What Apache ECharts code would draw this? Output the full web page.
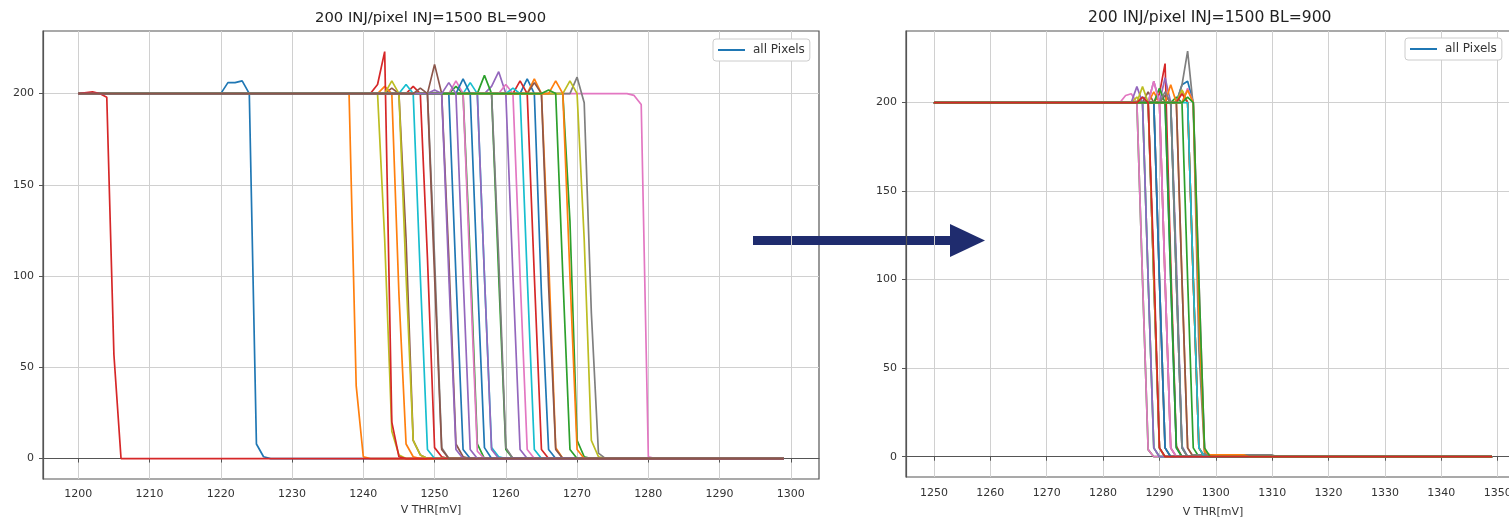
<!DOCTYPE html>
<html>
<head>
<meta charset="utf-8">
<script src="https://cdn.jsdelivr.net/npm/echarts@6/dist/echarts.min.js"></script>
<style>
  html, body { margin: 0; padding: 0; background: #fff; }
  #main { width: 1509px; height: 519px; }
</style>
</head>
<body>
<div id="main"></div>
<script>
// --- data ---
const chartTitle = '200 INJ/pixel INJ=1500 BL=900';
const xName = 'V THR[mV]';
const legendName = 'all Pixels';
const plateau = 200;

const leftScan = [1200, 1299];
const rightScan = [1250, 1349];
const leftXTicks = [1200, 1210, 1220, 1230, 1240, 1250, 1260, 1270, 1280, 1290, 1300];
const rightXTicks = [1250, 1260, 1270, 1280, 1290, 1300, 1310, 1320, 1330, 1340, 1350];
const yTicks = [0, 50, 100, 150, 200];

// each curve: [first mV of the edge, counts at that mV, next mV, ...]
// before the edge the pixel sits at the plateau, after it stays at the last value
const leftCurves = [
  [1219, 200, 200, 206, 206, 207, 200, 8, 1, 0],
  [1238, 200, 40, 1, 0],
  [1267, 200, 200, 130, 10, 1, 0],
  [1246, 200, 204, 200, 110, 6, 1, 0],
  [1257, 200, 204, 212, 200, 100, 5, 0],
  [1243, 200, 203, 200, 120, 10, 2, 0],
  [1277, 200, 199, 194, 1, 0],
  [1269, 200, 209, 195, 80, 3, 0],
  [1241, 200, 200, 120, 15, 2, 0],
  [1254, 200, 206, 200, 100, 6, 1, 0],
  [1262, 200, 208, 200, 90, 5, 0],
  [1242, 200, 204, 200, 90, 8, 1, 0],
  [1252, 200, 204, 200, 110, 8, 0],
  [1241, 200, 205, 223, 20, 1, 0],
  [1255, 200, 200, 100, 5, 0],
  [1249, 200, 216, 200, 110, 8, 1, 0],
  [1252, 200, 207, 200, 100, 4, 0],
  [1248, 200, 200, 110, 6, 0],
  [1243, 200, 207, 200, 100, 10, 2, 0],
  [1245, 200, 205, 200, 100, 5, 0],
  [1251, 200, 200, 100, 5, 0],
  [1263, 200, 208, 200, 110, 6, 0],
  [1256, 200, 210, 200, 100, 5, 0],
  [1261, 200, 207, 200, 100, 5, 0],
  [1249, 200, 202, 200, 100, 5, 0],
  [1263, 200, 206, 200, 95, 5, 0],
  [1259, 200, 205, 200, 100, 5, 0],
  [1257, 200, 200, 110, 6, 0],
  [1268, 200, 207, 200, 120, 10, 1, 0],
  [1260, 200, 203, 200, 100, 5, 0],
  [1253, 200, 208, 200, 100, 6, 0],
  [1266, 200, 207, 200, 100, 5, 0],
  [1265, 200, 202, 200, 100, 5, 0],
  [1202, 201, 200, 198, 57, 0],
  [1251, 200, 206, 200, 100, 5, 0],
  [1247, 200, 203, 200, 100, 5, 0]
];

const rightCurves = [
  [1293, 200, 210, 212, 200, 90, 4, 0],
  [1293, 200, 207, 200, 100, 5, 0],
  [1285, 200, 200, 100, 4, 0],
  [1289, 200, 205, 222, 110, 6, 0],
  [1290, 200, 214, 200, 110, 6, 0],
  [1287, 200, 206, 200, 100, 5, 0],
  [1283, 200, 204, 205, 200, 100, 4, 0],
  [1293, 200, 210, 229, 198, 60, 2, 0],
  [1285, 200, 203, 200, 100, 5, 0],
  [1286, 200, 200, 100, 5, 0],
  [1290, 200, 200, 100, 5, 0],
  [1288, 200, 206, 200, 100, 5, 0],
  [1292, 200, 203, 200, 100, 5, 0],
  [1287, 200, 200, 100, 5, 0],
  [1288, 200, 212, 200, 100, 5, 0],
  [1290, 200, 204, 200, 100, 5, 0],
  [1294, 200, 208, 200, 100, 4, 0],
  [1288, 200, 200, 100, 5, 0],
  [1293, 200, 207, 200, 100, 5, 0],
  [1291, 200, 200, 100, 5, 0],
  [1286, 200, 203, 200, 100, 5, 0],
  [1291, 200, 210, 200, 100, 5, 0],
  [1289, 200, 208, 200, 100, 5, 0],
  [1293, 200, 205, 200, 100, 5, 0],
  [1285, 200, 209, 200, 100, 5, 0],
  [1292, 200, 200, 100, 5, 0],
  [1288, 200, 212, 200, 100, 5, 0],
  [1290, 200, 206, 200, 100, 5, 0, 1, 1, 1, 1, 1, 1, 1, 1, 1, 1, 1, 1, 1, 1, 1, 0],
  [1286, 200, 209, 200, 100, 5, 0],
  [1294, 200, 200, 100, 5, 0],
  [1288, 200, 200, 100, 5, 0],
  [1294, 200, 207, 200, 80, 3, 1, 1, 1, 1, 1, 1, 1, 0],
  [1294, 200, 203, 200, 100, 5, 0],
  [1286, 200, 203, 200, 110, 5, 0]
];

// matplotlib default cycle
const palette = ['#1f77b4', '#ff7f0e', '#2ca02c', '#d62728', '#9467bd',
                 '#8c564b', '#e377c2', '#7f7f7f', '#bcbd22', '#17becf'];
const font = 'DejaVu Sans';

function toPoints(curve, scan) {
  const start = curve[0];
  const vals = curve.slice(1);
  const pts = [];
  if (start > scan[0]) pts.push([scan[0], plateau]);
  vals.forEach((v, i) => pts.push([start + i, v]));
  const end = start + vals.length - 1;
  if (end < scan[1]) pts.push([scan[1], vals[vals.length - 1]]);
  return pts;
}

function makeSeries(curves, scan, idx) {
  return curves.map((c, i) => ({
    name: i === 0 ? legendName : 'px' + idx + '_' + i,
    type: 'line',
    xAxisIndex: idx,
    yAxisIndex: idx,
    data: toPoints(c, scan),
    showSymbol: false,
    symbol: 'none',
    silent: true,
    animation: false,
    lineStyle: { width: 1.7, color: palette[i % 10] },
    itemStyle: { color: palette[i % 10] }
  }));
}

function tickFmt(ticks) {
  return v => (ticks.some(t => Math.abs(t - v) < 1e-6) ? String(Math.round(v)) : '');
}

function xAxis(idx, min, max, ticks, margin, nameGap) {
  return {
    gridIndex: idx, type: 'value', min: min, max: max,
    minInterval: 10, maxInterval: 10,
    name: xName, nameLocation: 'middle', nameGap: nameGap,
    nameTextStyle: { fontSize: 11, color: '#333', fontFamily: font },
    axisLine: { show: true, lineStyle: { color: '#555', width: 1.2 } },
    axisTick: { show: true, length: 4, customValues: ticks, lineStyle: { color: '#555' } },
    axisLabel: { fontSize: 11, color: '#333', margin: margin, fontFamily: font,
                 customValues: ticks, formatter: tickFmt(ticks) },
    splitLine: { show: true, lineStyle: { color: '#d0d0d0', width: 1 } }
  };
}

function yAxis(idx, min, max) {
  return {
    gridIndex: idx, type: 'value', min: min, max: max,
    minInterval: 50, maxInterval: 50,
    axisLine: { show: true, lineStyle: { color: '#555', width: 1.2 } },
    axisTick: { show: true, length: 4, customValues: yTicks, lineStyle: { color: '#555' } },
    axisLabel: { fontSize: 11, color: '#333', margin: 9, fontFamily: font,
                 customValues: yTicks, formatter: tickFmt(yTicks) },
    splitLine: { show: true, lineStyle: { color: '#d0d0d0', width: 1 } }
  };
}

function legend(left, top) {
  return {
    data: [legendName], left: left, top: top, icon: 'rect',
    itemWidth: 27, itemHeight: 2, itemGap: 5, padding: [5, 5],
    borderColor: '#cccccc', borderWidth: 1, borderRadius: 3, backgroundColor: '#fff',
    selectedMode: false,
    textStyle: { fontSize: 12, color: '#333', fontFamily: font, padding: [0, 0, 0, 3] }
  };
}

const chart = echarts.init(document.getElementById('main'), null, { renderer: 'canvas' });
const arrowColor = '#1f2c6e';

chart.setOption({
  backgroundColor: '#fff',
  animation: false,
  textStyle: { fontFamily: font },
  title: [
    { text: chartTitle, left: 315, top: 11, padding: 0,
      textStyle: { fontSize: 14.8, fontWeight: 'normal', color: '#222', fontFamily: font } },
    { text: chartTitle, left: 1088, top: 10, padding: 0,
      textStyle: { fontSize: 15.6, fontWeight: 'normal', color: '#222', fontFamily: font } }
  ],
  legend: [legend(713, 39), legend(1405, 38)],
  grid: [
    { left: 43, top: 31, width: 776, height: 448, show: true, borderColor: '#555', borderWidth: 1.2,
      containLabel: false, outerBoundsMode: 'none' },
    { left: 906, top: 31, width: 614, height: 446, show: true, borderColor: '#555', borderWidth: 1.2,
      containLabel: false, outerBoundsMode: 'none' }
  ],
  xAxis: [xAxis(0, 1195.05, 1303.95, leftXTicks, 10, 24), xAxis(1, 1245.05, 1353.95, rightXTicks, 11, 30)],
  yAxis: [yAxis(0, -11.2, 234.3), yAxis(1, -11.45, 240.4)],
  series: makeSeries(leftCurves, leftScan, 0).concat(makeSeries(rightCurves, rightScan, 1)),
  graphic: [
    { type: 'group', z: 100, children: [
      { type: 'rect', shape: { x: 753, y: 236, width: 200, height: 9 }, style: { fill: arrowColor } },
      { type: 'polygon', shape: { points: [[950, 224], [985, 240.5], [950, 257]] }, style: { fill: arrowColor } }
    ] }
  ]
});
</script>
</body>
</html>
